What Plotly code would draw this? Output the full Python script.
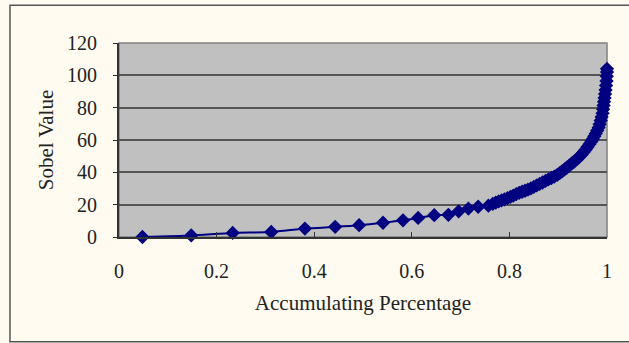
import plotly.graph_objects as go

accum_pct = [0.048, 0.148, 0.233, 0.312, 0.381, 0.443, 0.492, 0.541, 0.582, 0.613,
             0.646, 0.675, 0.696, 0.716, 0.736, 0.757,
             0.766, 0.772, 0.778, 0.784, 0.790, 0.796, 0.802, 0.808, 0.814, 0.820,
             0.826, 0.832, 0.838, 0.844, 0.850, 0.856, 0.862, 0.868, 0.874, 0.880,
             0.886, 0.892, 0.898, 0.903, 0.908, 0.913, 0.918, 0.923, 0.928, 0.933,
             0.938, 0.943, 0.948, 0.952, 0.956, 0.960, 0.964, 0.968, 0.971, 0.974,
             0.977, 0.980, 0.983, 0.985, 0.987, 0.989, 0.991, 0.992, 0.993, 0.994,
             0.995, 0.996, 0.997, 0.998, 0.999, 0.9995, 1.0, 1.0]
sobel_value = [0.0, 1.0, 2.5, 3.1, 5.2, 6.3, 7.3, 8.8, 10.3, 11.8,
               13.5, 13.7, 15.9, 17.6, 18.7, 19.4,
               20.5, 21.3, 22.0, 22.6, 23.3, 24.0, 24.8, 25.6, 26.5, 27.3,
               28.0, 28.6, 29.3, 30.1, 31.0, 31.9, 32.8, 33.7, 34.7, 35.6,
               36.5, 37.4, 38.4, 39.5, 40.6, 41.8, 43.0, 44.3, 45.5, 46.7,
               48.0, 49.5, 51.0, 52.5, 54.0, 55.6, 57.3, 59.0, 60.6, 62.3,
               64.0, 65.8, 67.8, 69.8, 72.0, 74.3, 76.6, 79.0, 81.4, 83.7,
               86.0, 88.4, 91.0, 93.7, 96.5, 99.4, 102.0, 104.0]

x_ticks = [0, 0.2, 0.4, 0.6, 0.8, 1]
x_tick_text = ["0", "0.2", "0.4", "0.6", "0.8", "1"]
y_ticks = [0, 20, 40, 60, 80, 100, 120]

font_family = "Liberation Serif"

fig = go.Figure()
fig.add_trace(go.Scatter(
    x=accum_pct, y=sobel_value, mode="lines+markers",
    line=dict(color="#000080", width=2, shape="spline", smoothing=0.6),
    marker=dict(symbol="diamond", size=11, color="#000080",
                line=dict(width=0)),
    showlegend=False, cliponaxis=False,
))

fig.update_layout(
    width=629, height=343,
    margin=dict(l=119, r=22, t=43, b=106),
    paper_bgcolor="#FFFBF0",
    plot_bgcolor="#C0C0C0",
    font=dict(family=font_family, size=20, color="#222222"),
    xaxis=dict(
        range=[0, 1], tickvals=x_ticks, ticktext=x_tick_text,
        showgrid=False, zeroline=False,
        ticks="inside", ticklen=5, tickcolor="#333333", tickwidth=1,
        showline=True, linecolor="#333333", linewidth=2,
        ticklabelstandoff=15,
        title=dict(text="Accumulating Percentage", standoff=14,
                   font=dict(size=21)),
    ),
    yaxis=dict(
        range=[0, 120], tickvals=y_ticks,
        showgrid=True, gridcolor="#555555", gridwidth=1.5,
        zeroline=False,
        ticks="outside", ticklen=4, tickcolor="#333333",
        showline=True, linecolor="#333333", linewidth=2,
        ticklabelstandoff=12,
        title=dict(text="Sobel Value", standoff=8, font=dict(size=21)),
    ),
    shapes=[
        dict(type="rect", xref="paper", yref="paper", x0=0, x1=1, y0=0, y1=1,
             line=dict(color="#808080", width=1.5), layer="below"),
        dict(type="rect", xref="paper", yref="paper",
             x0=-0.2234, x1=1.06, y0=-0.54, y1=1.195,
             line=dict(color="#555555", width=1.5), layer="below"),
    ],
)

fig.write_html("out.html",
               config={"displayModeBar": False},
               post_script="document.body.style.margin='0';document.body.style.padding='0';")
